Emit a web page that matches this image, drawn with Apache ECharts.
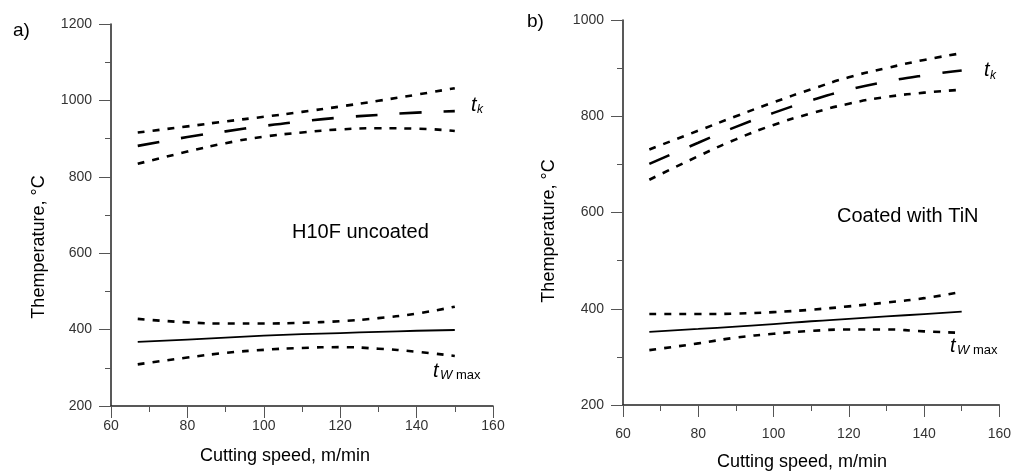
<!DOCTYPE html>
<html>
<head>
<meta charset="utf-8">
<script src="https://cdn.jsdelivr.net/npm/echarts@6/dist/echarts.min.js"></script>
<style>
  html, body { margin: 0; padding: 0; background: #fff; }
  #chart { width: 1014px; height: 472px; }
</style>
</head>
<body>
<div id="chart"></div>
<script>
// Cutting speed, m/min (sample points)
const speed = [67, 80, 90, 100, 110, 120, 130, 140, 150];

// a) H10F uncoated
const tkUpperA = [916, 932, 945, 957, 970, 984, 999, 1015, 1032];
const tkA      = [881, 904, 919, 933, 945, 955, 962, 968, 972];
const tkLowerA = [834, 866, 888, 905, 916, 924, 927, 926, 920];
const twUpperA = [428, 419, 416, 416, 418, 422, 430, 442, 460];
const twA      = [368, 374, 379, 384, 388, 391, 394, 397, 399];
const twLowerA = [309, 327, 339, 347, 352, 354, 350, 342, 331];

// b) Coated with TiN
const tkUpperB = [731, 770, 800, 829, 856, 881, 900, 917, 931];
const tkB      = [701, 745, 778, 807, 833, 855, 872, 885, 895];
const tkLowerB = [668, 717, 752, 782, 806, 826, 840, 849, 855];
const twUpperB = [389, 389, 390, 393, 398, 405, 413, 422, 435];
const twB      = [352, 358, 363, 368, 374, 379, 384, 389, 394];
const twLowerB = [314, 328, 340, 348, 354, 357, 357, 353, 350];

const chart = echarts.init(document.getElementById('chart'));

const font = '"Liberation Sans", Arial, sans-serif';
const pairs = (ys) => speed.map((x, i) => [x, ys[i]]);

const shortDash = { color: '#000', width: 2.6, type: [7, 8] };
const longDash = { color: '#000', width: 2.6, type: [22, 22] };
const solid = { color: '#000', width: 1.8, type: 'solid' };

function line(idx, ys, style) {
  return {
    type: 'line',
    xAxisIndex: idx,
    yAxisIndex: idx,
    data: pairs(ys),
    smooth: true,
    showSymbol: false,
    silent: true,
    lineStyle: style,
  };
}

const plain = (v) => String(v);

function xAxis(grid, margin) {
  return {
    type: 'value',
    gridIndex: grid,
    min: 60,
    max: 160,
    interval: 20,
    axisLine: { show: true, lineStyle: { color: '#222', width: 1.5 } },
    axisTick: { show: true, length: 12, lineStyle: { color: '#555' } },
    minorTick: { show: true, splitNumber: 2, length: 6, lineStyle: { color: '#555' } },
    splitLine: { show: false },
    axisLabel: { margin: margin, color: '#333', fontSize: 14, fontFamily: font, formatter: plain },
  };
}

function yAxis(grid, max) {
  return {
    type: 'value',
    gridIndex: grid,
    min: 200,
    max: max,
    interval: 200,
    axisLine: { show: true, lineStyle: { color: '#222', width: 1.5 } },
    axisTick: { show: true, length: 12, lineStyle: { color: '#555' } },
    minorTick: { show: true, splitNumber: 2, length: 6, lineStyle: { color: '#555' } },
    splitLine: { show: false },
    axisLabel: { margin: 19, color: '#333', fontSize: 14, fontFamily: font, formatter: plain },
  };
}

function txt(x, y, text, size, opts) {
  return {
    type: 'text',
    x: x,
    y: y,
    rotation: (opts && opts.rotation) || 0,
    silent: true,
    style: {
      text: text,
      fill: '#000',
      fontSize: size,
      fontFamily: font,
      fontStyle: (opts && opts.italic) ? 'italic' : 'normal',
      align: (opts && opts.align) || 'left',
      verticalAlign: 'middle',
    },
  };
}

const option = {
  animation: false,
  grid: [
    { left: 111, top: 24, width: 382, height: 382 },
    { left: 623, top: 20, width: 381, height: 385 },
  ],
  xAxis: [xAxis(0, 13), xAxis(1, 22)],
  yAxis: [yAxis(0, 1200), yAxis(1, 1000)],
  series: [
    line(0, tkUpperA, shortDash),
    line(0, tkA, longDash),
    line(0, tkLowerA, shortDash),
    line(0, twUpperA, shortDash),
    line(0, twA, solid),
    line(0, twLowerA, shortDash),
    line(1, tkUpperB, shortDash),
    line(1, tkB, longDash),
    line(1, tkLowerB, shortDash),
    line(1, twUpperB, shortDash),
    line(1, twB, solid),
    line(1, twLowerB, shortDash),
  ],
  graphic: [
    txt(13, 31, 'a)', 19),
    txt(527, 22, 'b)', 19),
    txt(292, 232, 'H10F uncoated', 20),
    txt(837, 216, 'Coated with TiN', 20),
    txt(39, 247, 'Themperature, °C', 18, { rotation: Math.PI / 2, align: 'center' }),
    txt(549, 231, 'Themperature, °C', 18, { rotation: Math.PI / 2, align: 'center' }),
    txt(285, 456, 'Cutting speed, m/min', 18, { align: 'center' }),
    txt(802, 462, 'Cutting speed, m/min', 18, { align: 'center' }),
    // t_k labels
    txt(471, 105, 't', 20, { italic: true }),
    txt(477, 110, 'k', 12, { italic: true }),
    txt(984, 70, 't', 20, { italic: true }),
    txt(990, 76, 'k', 12, { italic: true }),
    // t_W max labels
    txt(433, 371, 't', 20, { italic: true }),
    txt(440, 375, 'W', 13, { italic: true }),
    txt(456, 375, 'max', 13),
    txt(950, 346, 't', 20, { italic: true }),
    txt(957, 350, 'W', 13, { italic: true }),
    txt(973, 350, 'max', 13),
  ],
};

chart.setOption(option);
</script>
</body>
</html>
